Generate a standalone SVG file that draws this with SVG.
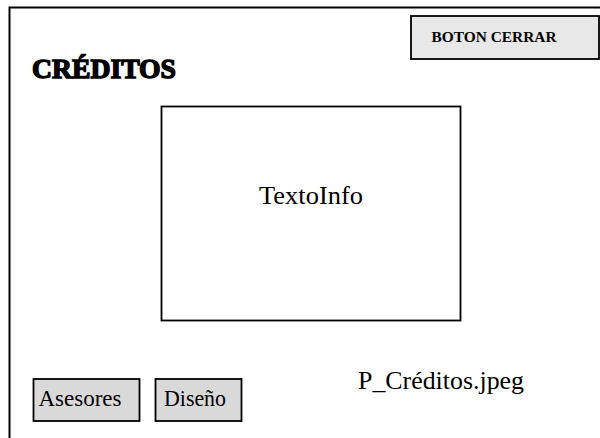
<svg xmlns="http://www.w3.org/2000/svg" width="600" height="438" viewBox="0 0 600 438">
<style>
.frame{fill:#ffffff;stroke:#000;stroke-width:2}
.box{stroke:#000;stroke-width:1.8}
.t{font-family:"Liberation Serif","Times New Roman",serif;fill:#000}
</style>
<rect x="0" y="0" width="600" height="438" fill="#ffffff"/>
<g id="frame">
<rect class="frame" x="9.5" y="7.5" width="700" height="600"/>
</g>
<g id="titulo">
<text class="t" x="32" y="78" font-size="27" font-weight="bold" stroke="#000" stroke-width="1.4" textLength="144" lengthAdjust="spacingAndGlyphs">CRÉDITOS</text>
</g>
<g id="boton-cerrar">
<rect class="box" x="411" y="16" width="188" height="43" fill="#e8e8e8"/>
<text class="t" x="431.5" y="41.5" font-size="15" font-weight="bold" textLength="125" lengthAdjust="spacingAndGlyphs">BOTON CERRAR</text>
</g>
<g id="texto-info">
<rect class="box" x="161.5" y="106.5" width="299" height="214" fill="#ffffff"/>
<text class="t" x="259" y="204" font-size="26" textLength="104" lengthAdjust="spacingAndGlyphs">TextoInfo</text>
</g>
<g id="imagen">
<text class="t" x="358" y="389" font-size="26" textLength="166" lengthAdjust="spacingAndGlyphs">P_Créditos.jpeg</text>
</g>
<g id="asesores">
<rect class="box" x="33.5" y="379" width="106" height="42" fill="#d9d9d9"/>
<text class="t" x="38.5" y="405.5" font-size="24" textLength="83" lengthAdjust="spacingAndGlyphs">Asesores</text>
</g>
<g id="diseno">
<rect class="box" x="155.5" y="379" width="86" height="42" fill="#d9d9d9"/>
<text class="t" x="164" y="405.5" font-size="24" textLength="62" lengthAdjust="spacingAndGlyphs">Diseño</text>
</g>
<g id="connectors"></g>
</svg>
